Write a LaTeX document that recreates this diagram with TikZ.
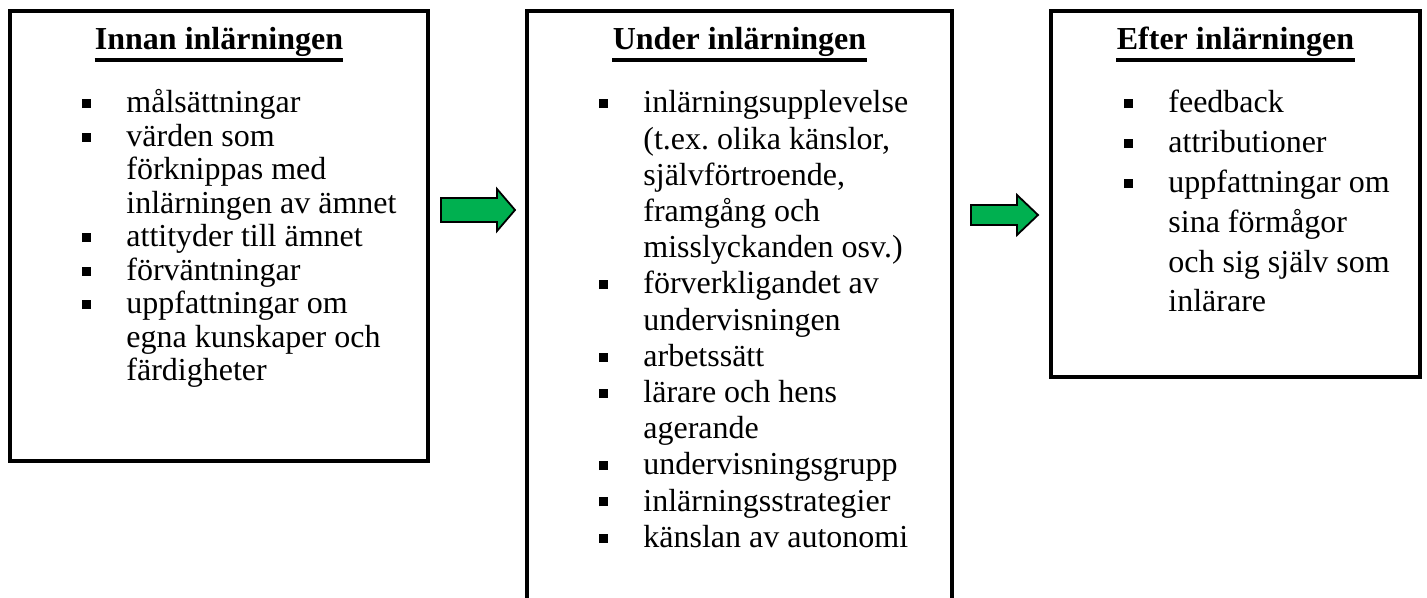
\documentclass[tikz,border=0pt]{standalone}
\usepackage{fontspec}
\setmainfont{Liberation Serif}
\usetikzlibrary{calc}
\definecolor{arrowgreen}{RGB}{0,176,80}
\newcommand\sqb{\rule[2.4pt]{4.5pt}{4.5pt}}
\newcommand\itm{\llap{\sqb\hspace{17.8pt}}}
\frenchspacing
\begin{document}
\begin{tikzpicture}[x=0.5pt,y=-0.5pt,
  frame/.style={draw,line width=2.2pt,rectangle,inner sep=0pt},
  boxtitle/.style={font=\fontsize{16}{19}\selectfont\bfseries,anchor=base,inner sep=0pt},
  ulined/.style={line width=1.8pt},
  listA/.style={anchor=base west,inner sep=0pt,font=\fontsize{16}{16.75}\selectfont},
  listB/.style={anchor=base west,inner sep=0pt,font=\fontsize{16}{18.1}\selectfont},
  listC/.style={anchor=base west,inner sep=0pt,font=\fontsize{16}{19.9}\selectfont},
  greenarrow/.style={draw=black,line width=0.9pt,fill=arrowgreen,line join=miter}
]
\useasboundingbox (0,0) rectangle (1427,598);

% boxes
\node[frame,minimum width=209pt,minimum height=225pt] (b1) at (219,236) {};
\node[frame,minimum width=212.5pt,minimum height=344.5pt] (b2) at (739.5,355.5) {};
\node[frame,minimum width=184.5pt,minimum height=183pt] (b3) at (1235.5,194) {};

% titles
\node[boxtitle] (t1) at (219,50) {Innan inlärningen};
\node[boxtitle] (t2) at (739.5,50) {Under inlärningen};
\node[boxtitle] (t3) at (1235.5,50) {Efter inlärningen};
\foreach \t in {t1,t2,t3}{
  \draw[ulined] ($(\t.base west)+(0,10)$) -- ($(\t.base east)+(0,10)$);
}

% lists
\node[listA] (l1) at (126,113) {\begin{tabular}[t]{@{}l@{}}
\itm målsättningar\\
\itm värden som\\
förknippas med\\
inlärningen av ämnet\\
\itm attityder till ämnet\\
\itm förväntningar\\
\itm uppfattningar om\\
egna kunskaper och\\
färdigheter
\end{tabular}};

\node[listB] (l2) at (643,113) {\begin{tabular}[t]{@{}l@{}}
\itm inlärningsupplevelse\\
(t.ex. olika känslor,\\
självförtroende,\\
framgång och\\
misslyckanden osv.)\\
\itm förverkligandet av\\
undervisningen\\
\itm arbetssätt\\
\itm lärare och hens\\
agerande\\
\itm undervisningsgrupp\\
\itm inlärningsstrategier\\
\itm känslan av autonomi
\end{tabular}};

\node[listC] (l3) at (1168,113) {\begin{tabular}[t]{@{}l@{}}
\itm feedback\\
\itm attributioner\\
\itm uppfattningar om\\
sina förmågor\\
och sig själv som\\
inlärare
\end{tabular}};

% arrows
\draw[greenarrow] (441,198) -- (497,198) -- (497,189) -- (515,210) -- (497,231) -- (497,222) -- (441,222) -- cycle;
\draw[greenarrow] (971,205) -- (1017,205) -- (1017,195) -- (1038,215) -- (1017,235) -- (1017,225) -- (971,225) -- cycle;
\end{tikzpicture}
\end{document}
